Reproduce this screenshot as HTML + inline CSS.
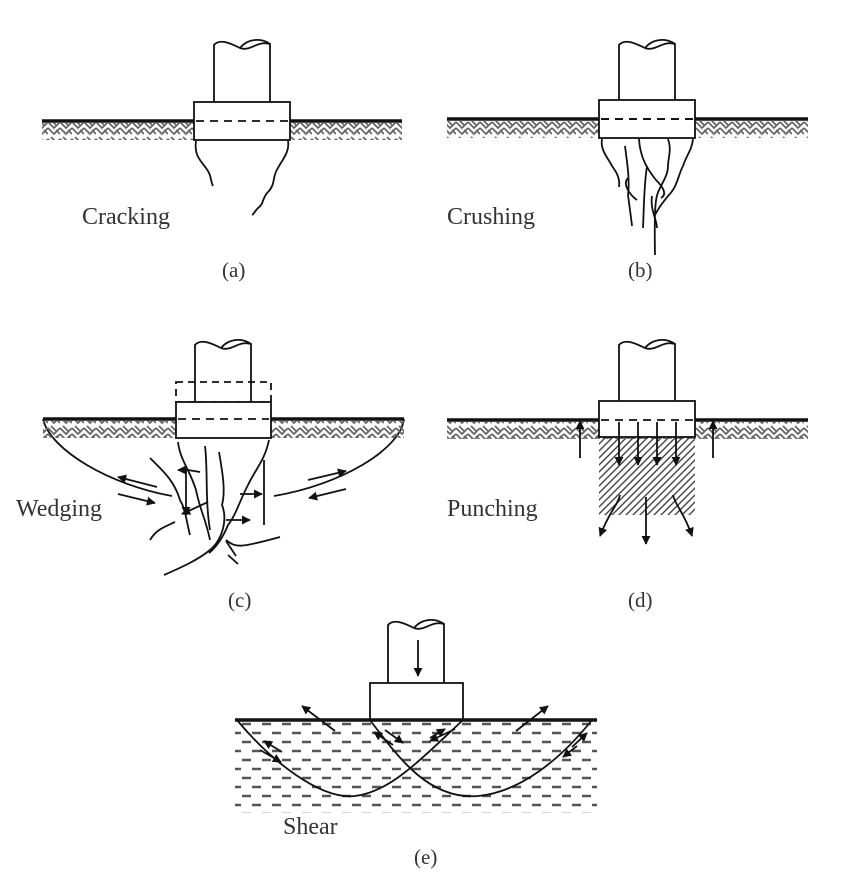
<!DOCTYPE html>
<html><head><meta charset="utf-8"><style>
html,body{margin:0;padding:0;background:#fff;}
svg{display:block;}
text{font-family:"Liberation Serif",serif;font-size:21px;fill:#333;}
text.lb{font-size:24px;}
</style></head><body>
<svg width="854" height="884" viewBox="0 0 854 884" xmlns="http://www.w3.org/2000/svg">
<defs>
<pattern id="zz" width="12" height="17" patternUnits="userSpaceOnUse">
<path d="M0 3 L6 9 L12 3 M0 9 L6 15 L12 9 M3 1 L8 6 M8 11 L12 15" stroke="#666" stroke-width="1.8" fill="none"/>
</pattern>
<pattern id="diag" width="7" height="7" patternUnits="userSpaceOnUse">
<path d="M-1 8 L8 -1 M-2 2 L2 -2 M5 9 L9 5" stroke="#444" stroke-width="1.4"/>
</pattern>
<pattern id="dash" width="20" height="18" patternUnits="userSpaceOnUse">
<path d="M2 4 L11 4 M12 13 L21 13 M-8 13 L1 13" stroke="#555" stroke-width="2.4"/>
</pattern>
<marker id="ah" viewBox="0 0 10 10" refX="9" refY="5" markerWidth="9" markerHeight="9" orient="auto-start-reverse" markerUnits="userSpaceOnUse">
<path d="M0 0 L10 5 L0 10 z" fill="#111"/>
</marker>
</defs>
<g stroke="#111" fill="none" stroke-width="1.8">

<!-- (a) -->
<rect x="42" y="123" width="360" height="17" fill="url(#zz)" stroke="none"/>
<line x1="42" y1="121" x2="402" y2="121" stroke-width="3.5"/>
<path d="M214 102 L214 45 C220 38 232 44 240 48 C250 52 258 40 270 44 L270 102" fill="#fff"/>
<path d="M240 48 C248 38 262 38 270 44"/>
<rect x="194" y="102" width="96" height="38" fill="#fff"/>
<line x1="196" y1="121" x2="288" y2="121" stroke-dasharray="8,6"/>
<path d="M196 141 C194 155 200 160 206 168 C212 176 210 180 213 186"/>
<path d="M288 141 C290 152 282 160 278 168 C272 176 276 184 268 192 C262 198 264 204 258 208 C254 212 254 214 252 215"/>
<text class="lb" x="82" y="224" stroke="none">Cracking</text>
<text x="222" y="277" stroke="none">(a)</text>

<!-- (b) -->
<rect x="447" y="121" width="361" height="17" fill="url(#zz)" stroke="none"/>
<line x1="447" y1="119" x2="808" y2="119" stroke-width="3.5"/>
<path d="M619 100 L619 45 C625 38 637 44 645 48 C655 52 663 40 675 44 L675 100" fill="#fff"/>
<path d="M645 48 C653 38 667 38 675 44"/>
<rect x="599" y="100" width="96" height="38" fill="#fff"/>
<line x1="601" y1="119" x2="693" y2="119" stroke-width="2" stroke-dasharray="8,6"/>
<path d="M602 139 C600 150 608 158 612 166 C618 174 620 180 619 187"/>
<path d="M625 146 C627 162 630 180 628 195 C630 210 632 225 632 226"/>
<path d="M628 178 C622 184 630 195 637 200"/>
<path d="M639 139 C640 158 648 170 656 180 C662 186 668 194 661 198"/>
<path d="M647 166 C644 185 644 205 643 228"/>
<path d="M668 139 C672 150 668 158 668 166 C668 174 664 180 660 188 C656 196 654 200 655 255"/>
<path d="M693 139 C692 150 686 156 683 166 C678 175 678 186 668 196 C665 200 660 205 655 215"/>
<path d="M652 196 C650 210 657 220 657 228"/>
<text class="lb" x="447" y="224" stroke="none">Crushing</text>
<text x="628" y="277" stroke="none">(b)</text>

<!-- (c) -->
<path d="M43 419 C50 450 110 485 172 496" />
<path d="M404 419 C400 450 340 485 274 496"/>
<rect x="43" y="421" width="361" height="17" fill="url(#zz)" stroke="none"/>
<line x1="43" y1="419" x2="404" y2="419" stroke-width="3.5"/>
<path d="M195 402 L195 345 C201 338 213 344 221 348 C231 352 239 340 251 344 L251 402" fill="#fff"/>
<path d="M221 348 C229 338 243 338 251 344"/>
<rect x="176" y="382" width="95" height="20" stroke-dasharray="7,5"/>
<rect x="176" y="402" width="95" height="36" fill="#fff"/>
<line x1="178" y1="419" x2="269" y2="419" stroke-dasharray="8,6"/>
<path d="M178 442 C180 460 190 470 196 490 C200 510 206 520 210 540"/>
<path d="M205 446 C208 470 205 500 210 530"/>
<path d="M219 452 C222 470 226 490 222 505 C228 520 222 540 210 550 C198 560 180 568 164 575"/>
<path d="M269 440 C265 460 255 470 248 485 C240 500 236 515 228 525 C222 540 215 548 209 553"/>
<path d="M264 460 L264 525"/>
<path d="M150 458 C162 470 174 480 180 500 C186 510 186 520 190 535"/>
<path d="M150 540 C156 530 162 528 175 522"/>
<path d="M226 540 C236 548 240 548 280 537"/>
<path d="M226 541 L236 556 M228 555 L238 564"/>
<path d="M188 470 L200 472"/>
<path d="M188 470 L178 470" marker-end="url(#ah)"/>
<path d="M186 490 L186 470"/>
<path d="M186 490 L186 515" marker-end="url(#ah)"/>
<path d="M208 502 L182 514" marker-end="url(#ah)"/>
<path d="M240 494 L262 494" marker-end="url(#ah)"/>
<path d="M226 520 L250 520" marker-end="url(#ah)"/>
<path d="M157 487 L118 477" marker-end="url(#ah)"/>
<path d="M118 494 L155 503" marker-end="url(#ah)"/>
<path d="M308 480 L346 471" marker-end="url(#ah)"/>
<path d="M346 489 L309 498" marker-end="url(#ah)"/>
<text class="lb" x="16" y="516" stroke="none">Wedging</text>
<text x="228" y="607" stroke="none">(c)</text>

<!-- (d) -->
<rect x="447" y="422" width="361" height="17" fill="url(#zz)" stroke="none"/>
<rect x="599" y="437" width="96" height="78" fill="url(#diag)" stroke="none"/>
<line x1="447" y1="420" x2="808" y2="420" stroke-width="3.5"/>
<path d="M619 401 L619 345 C625 338 637 344 645 348 C655 352 663 340 675 344 L675 401" fill="#fff"/>
<path d="M645 348 C653 338 667 338 675 344"/>
<rect x="599" y="401" width="96" height="36" fill="#fff"/>
<line x1="601" y1="420" x2="693" y2="420" stroke-dasharray="8,6"/>
<path d="M619 422 L619 465" marker-end="url(#ah)"/>
<path d="M638 422 L638 465" marker-end="url(#ah)"/>
<path d="M657 422 L657 465" marker-end="url(#ah)"/>
<path d="M676 422 L676 465" marker-end="url(#ah)"/>
<path d="M580 458 L580 421" marker-end="url(#ah)"/>
<path d="M713 458 L713 421" marker-end="url(#ah)"/>
<path d="M620 495 C618 505 610 510 600 536" marker-end="url(#ah)"/>
<path d="M646 497 L646 544" marker-end="url(#ah)"/>
<path d="M673 495 C675 505 684 512 692 536" marker-end="url(#ah)"/>
<text class="lb" x="447" y="516" stroke="none">Punching</text>
<text x="628" y="607" stroke="none">(d)</text>

<!-- (e) -->
<rect x="235" y="721" width="362" height="92" fill="url(#dash)" stroke="none"/>
<path d="M388 683 L388 625 C394 618 406 624 414 628 C424 632 432 620 444 624 L444 683" fill="#fff"/>
<path d="M414 628 C422 618 436 618 444 624"/>
<path d="M418 640 L418 676" marker-end="url(#ah)"/>
<rect x="370" y="683" width="93" height="37" fill="#fff"/>
<line x1="235" y1="720" x2="597" y2="720" stroke-width="3.5"/>
<path d="M237 720 C270 760 320 800 355 796 C390 792 420 760 463 720"/>
<path d="M370 720 C400 760 430 800 478 796 C520 792 560 760 592 720"/>
<path d="M335 731 L302 706" marker-end="url(#ah)"/>
<path d="M516 731 L548 706" marker-end="url(#ah)"/>
<path d="M385 730 L403 743" marker-end="url(#ah)"/>
<path d="M393 745 L374 732" marker-end="url(#ah)"/>
<path d="M430 738 L445 729" marker-end="url(#ah)"/>
<path d="M455 729 L430 741" marker-end="url(#ah)"/>
<path d="M282 752 L264 741" marker-end="url(#ah)"/>
<path d="M260 750 L281 762" marker-end="url(#ah)"/>
<path d="M572 747 L587 733" marker-end="url(#ah)"/>
<path d="M577 746 L563 757" marker-end="url(#ah)"/>
<text class="lb" x="283" y="834" stroke="none">Shear</text>
<text x="414" y="864" stroke="none">(e)</text>
</g>
</svg>
</body></html>
